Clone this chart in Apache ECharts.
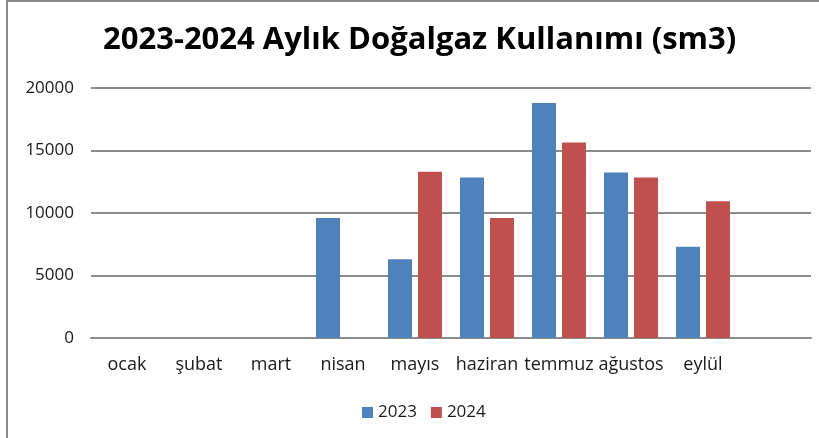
<!DOCTYPE html>
<html>
<head>
<meta charset="utf-8">
<script src="https://cdn.jsdelivr.net/npm/echarts@6/dist/echarts.min.js"></script>
<style>
  html, body { margin: 0; padding: 0; background: #fff; }
  #frame { position: absolute; left: 6px; top: 0; width: 900px; height: 500px;
           border-left: 2px solid #8c8c8c; border-top: 2px solid #8c8c8c; }
  #chart { position: absolute; left: 0; top: 0; width: 819px; height: 438px; }
</style>
</head>
<body>
<div id="frame"></div>
<div id="chart"></div>
<script>
// aylar (son kategori boş)
const months = ['ocak', 'şubat', 'mart', 'nisan', 'mayıs', 'haziran', 'temmuz', 'ağustos', 'eylül', ''];
const y2023 = [null, null, null, 9600, 6300, 12850, 18800, 13250, 7300, null];
const y2024 = [null, null, null, null, 13300, 9600, 15650, 12850, 10950, null];
const yTicks = [0, 5000, 10000, 15000, 20000];

const font = 'Open Sans, DejaVu Sans, sans-serif';
const chart = echarts.init(document.getElementById('chart'));

chart.setOption({
  animation: false,
  color: ['#4f81bd', '#c0504d'],
  title: {
    text: '2023-2024 Aylık Doğalgaz Kullanımı (sm3)',
    left: 98,
    top: 20,
    textStyle: { fontFamily: font, fontSize: 31, fontWeight: 'bold', color: '#000' }
  },
  legend: {
    data: ['2023', '2024'],
    left: 357,
    top: 399,
    icon: 'rect',
    itemWidth: 11,
    itemHeight: 11,
    itemGap: 14,
    textStyle: { fontFamily: font, fontSize: 17, color: '#1a1a1a' }
  },
  grid: { left: 91, right: 8, top: 88, bottom: 100 },
  xAxis: {
    type: 'category',
    data: months,
    axisLine: { lineStyle: { color: '#8c8c8c', width: 2 } },
    axisTick: { show: false },
    axisLabel: { interval: 0, margin: 18, fontFamily: font, fontSize: 18, color: '#1a1a1a' }
  },
  yAxis: {
    type: 'value',
    min: yTicks[0],
    max: yTicks[yTicks.length - 1],
    interval: 5000,
    axisLine: { show: false },
    axisTick: { show: false },
    axisLabel: { margin: 17, fontFamily: font, fontSize: 17, color: '#1a1a1a', formatter: v => String(v) },
    splitLine: { lineStyle: { color: '#8c8c8c', width: 2 } }
  },
  series: [
    { name: '2023', type: 'bar', data: y2023, barWidth: 24, barGap: '25%' },
    { name: '2024', type: 'bar', data: y2024, barWidth: 24, barGap: '25%' }
  ]
});
</script>
</body>
</html>
